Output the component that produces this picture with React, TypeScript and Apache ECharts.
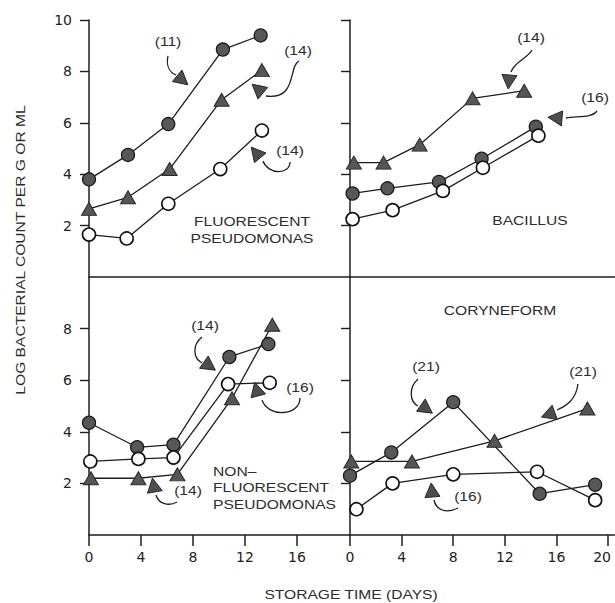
import React, { useEffect, useRef } from "react";
import * as echarts from "echarts";

// ---------- tick values ----------
const xTicksLeft = [0, 4, 8, 12, 16];
const xTicksRight = [0, 4, 8, 12, 16, 20];
const yTicksTop = [2, 4, 6, 8, 10];
const yTicksBottom = [2, 4, 6, 8];

// ---------- data: [storage day, log count] ----------
// Fluorescent Pseudomonas (top-left)
const fluoFilledCircle = [[0, 3.8], [3, 4.75], [6.1, 5.95], [10.3, 8.85], [13.2, 9.4]];
const fluoTriangle = [[0, 2.65], [3, 3.1], [6.2, 4.2], [10.2, 6.9], [13.3, 8.05]];
const fluoOpenCircle = [[0, 1.65], [2.9, 1.5], [6.1, 2.85], [10.1, 4.2], [13.3, 5.7]];

// Bacillus (top-right)
const bacTriangle = [[0.3, 4.45], [2.6, 4.45], [5.4, 5.15], [9.5, 6.95], [13.5, 7.25]];
const bacFilledCircle = [[0.2, 3.25], [2.9, 3.45], [6.9, 3.7], [10.2, 4.6], [14.4, 5.85]];
const bacOpenCircle = [[0.2, 2.25], [3.3, 2.6], [7.2, 3.35], [10.3, 4.25], [14.6, 5.5]];

// Non-fluorescent Pseudomonas (bottom-left)
const nonFilledCircle = [[0, 4.35], [3.7, 3.4], [6.5, 3.5], [10.8, 6.9], [13.8, 7.4]];
const nonOpenCircle = [[0.1, 2.85], [3.8, 2.95], [6.5, 3.0], [10.7, 5.85], [13.9, 5.9]];
const nonTriangle = [[0.15, 2.2], [3.8, 2.2], [6.8, 2.35], [11, 5.3], [14.1, 8.15]];

// Coryneform (bottom-right)
const coryFilledCircle = [[0, 2.3], [3.2, 3.2], [8, 5.15], [14.7, 1.6], [19, 1.95]];
const coryTriangle = [[0.1, 2.85], [4.8, 2.85], [11.2, 3.65], [18.4, 4.9]];
const coryOpenCircle = [[0.5, 1.0], [3.3, 2.0], [8, 2.35], [14.5, 2.45], [19, 1.35]];

// ---------- annotation layout (positions in px) ----------
const arrows = [
  { label: "(11)", t: [168, 42], c: [168, 56, 166, 65, 169, 72, 176, 75], h: [181, 79, 40] },
  { label: "(14)", t: [298, 51], c: [299, 61, 288, 66, 298, 100, 266, 96], h: [259, 90, -140] },
  { label: "(14)", t: [290, 151], c: [290, 162, 290, 175, 268, 175, 263, 161], h: [257, 154, -130] },
  { label: "(14)", t: [531, 38], c: [532, 50, 528, 58, 514, 62, 511, 72], h: [509, 80, 95] },
  { label: "(16)", t: [595, 98], c: [597, 111, 592, 118, 578, 116, 566, 118], h: [557, 118, 185] },
  { label: "(14)", t: [205, 326], c: [202, 337, 192, 345, 193, 358, 202, 363], h: [208, 365, 35] },
  { label: "(16)", t: [300, 388], c: [300, 398, 300, 416, 268, 418, 262, 400], h: [257, 391, -105] },
  { label: "(14)", t: [188, 491], c: [177, 502, 168, 507, 158, 503, 156, 495], h: [154, 487, -100] },
  { label: "(21)", t: [426, 367], c: [418, 379, 408, 388, 410, 402, 418, 406], h: [425, 408, 35] },
  { label: "(21)", t: [583, 372], c: [578, 384, 576, 400, 566, 406, 557, 410], h: [550, 414, 160] },
  { label: "(16)", t: [468, 497], c: [458, 508, 446, 514, 436, 510, 434, 500], h: [432, 492, -95] },
];

const panelLabels = [
  { text: "FLUORESCENT\nPSEUDOMONAS", x: 252, y: 230, align: "center" },
  { text: "BACILLUS", x: 530, y: 221, align: "center" },
  { text: "NON–\nFLUORESCENT\nPSEUDOMONAS", x: 213, y: 488, align: "left" },
  { text: "CORYNEFORM", x: 500, y: 311, align: "center" },
];

const TEXT_FONT = '"Liberation Sans", Arial, Helvetica, sans-serif';
const TEXT_COLOR = "#2c2c2c";
const STRETCH = 1.3;

function textEl(text: string, x: number, y: number, align = "center", rotation = 0) {
  return {
    type: "text",
    x,
    y,
    rotation,
    scaleX: STRETCH,
    silent: true,
    z: 10,
    style: {
      text,
      fill: TEXT_COLOR,
      fontSize: 12,
      fontFamily: TEXT_FONT,
      lineHeight: 16.5,
      align,
      verticalAlign: "middle",
      textAlign: align,
      textVerticalAlign: "middle",
    },
  };
}

function arrowEls(a: any) {
  const [x1, y1, cx1, cy1, cx2, cy2, x2, y2] = a.c;
  const [hx, hy, deg] = a.h;
  const r = (deg * Math.PI) / 180;
  const dx = Math.cos(r), dy = Math.sin(r);
  const nx = -dy, ny = dx;
  const tip = [hx + dx * 9, hy + dy * 9];
  const b1 = [hx - dx * 5 + nx * 7.5, hy - dy * 5 + ny * 7.5];
  const b2 = [hx - dx * 5 - nx * 7.5, hy - dy * 5 - ny * 7.5];
  return [
    textEl(a.label, a.t[0], a.t[1]),
    {
      type: "bezierCurve",
      silent: true,
      z: 10,
      shape: { x1, y1, cpx1: cx1, cpy1: cy1, cpx2: cx2, cpy2: cy2, x2, y2 },
      style: { stroke: "#1f1f1f", lineWidth: 1.3, fill: null },
    },
    {
      type: "polygon",
      silent: true,
      z: 10,
      shape: { points: [tip, b1, b2] },
      style: { fill: "#4d4d4d", stroke: "#262626", lineWidth: 1 },
    },
  ];
}

type Kind = "filled" | "open" | "tri";

function series(data: number[][], idx: number, kind: Kind) {
  const itemStyle =
    kind === "open"
      ? { color: "#ffffff", borderColor: "#111", borderWidth: 1.6 }
      : kind === "tri"
      ? { color: "#555555", borderColor: "#2a2a2a", borderWidth: 1 }
      : { color: "#575757", borderColor: "#1a1a1a", borderWidth: 1.3 };
  return {
    type: "line",
    xAxisIndex: idx,
    yAxisIndex: idx,
    data,
    symbol: kind === "tri" ? "triangle" : "circle",
    symbolSize: kind === "tri" ? [15, 13] : 13,
    showSymbol: true,
    clip: false,
    silent: true,
    lineStyle: { color: "#1c1c1c", width: 1.3 },
    itemStyle,
    emphasis: { disabled: true },
    z: kind === "open" ? 3 : 2,
  };
}

const axisLineStyle = { color: "#1e1e1e", width: 1.5 };
const tickLabel = { fontSize: 14, fontFamily: '"DejaVu Sans", sans-serif', color: "#222" };

function xAxisCfg(idx: number, right: boolean, bottom: boolean) {
  return {
    gridIndex: idx,
    type: "value",
    min: 0,
    max: right ? 20.5 : 20,
    interval: 4,
    axisLine: { show: true, onZero: false, lineStyle: axisLineStyle },
    axisTick: {
      show: bottom,
      length: 11,
      lineStyle: { color: "#1e1e1e", width: 1.5 },
      customValues: right ? xTicksRight : xTicksLeft,
    },
    axisLabel: {
      show: bottom,
      margin: 15,
      customValues: right ? xTicksRight : xTicksLeft,
      ...tickLabel,
      formatter: (v: number) => (right && v === 20 ? "{edge|20}" : String(v)),
      rich: { edge: { ...tickLabel, padding: [0, 12, 0, 0] } },
    },
    splitLine: { show: false },
  };
}

function yAxisCfg(idx: number, right: boolean, top: boolean) {
  const ticks = top ? yTicksTop : yTicksBottom;
  return {
    gridIndex: idx,
    type: "value",
    min: 0,
    max: 10,
    interval: 2,
    axisLine: { show: true, onZero: false, lineStyle: axisLineStyle },
    axisTick: {
      show: true,
      length: 9,
      lineStyle: { color: "#1e1e1e", width: 1.4 },
      customValues: ticks,
    },
    axisLabel: {
      show: !right,
      margin: 17,
      customValues: ticks,
      ...tickLabel,
    },
    splitLine: { show: false },
  };
}

export default function App() {
  const ref = useRef<HTMLDivElement>(null);
  useEffect(() => {
    if (!ref.current) return;
    const chart = echarts.init(ref.current, null, { renderer: "svg" });
    const gridBase = { outerBoundsMode: "none", containLabel: false, show: false };
    const graphics: any[] = [];
    arrows.forEach((a) => graphics.push(...arrowEls(a)));
    panelLabels.forEach((p) => graphics.push(textEl(p.text, p.x, p.y, p.align)));
    graphics.push(textEl("STORAGE TIME (DAYS)", 351, 595));
    graphics.push(textEl("LOG BACTERIAL COUNT PER G OR ML", 21, 250, "center", Math.PI / 2));

    chart.setOption({
      animation: false,
      backgroundColor: "#ffffff",
      grid: [
        { ...gridBase, left: 89, top: 20, width: 260, height: 257 },
        { ...gridBase, left: 350, top: 20, width: 264.5, height: 257 },
        { ...gridBase, left: 89, top: 277, width: 260, height: 258 },
        { ...gridBase, left: 350, top: 277, width: 264.5, height: 258 },
      ],
      xAxis: [
        xAxisCfg(0, false, false),
        xAxisCfg(1, true, false),
        xAxisCfg(2, false, true),
        xAxisCfg(3, true, true),
      ],
      yAxis: [
        yAxisCfg(0, false, true),
        yAxisCfg(1, true, true),
        yAxisCfg(2, false, false),
        yAxisCfg(3, true, false),
      ],
      series: [
        series(fluoFilledCircle, 0, "filled"),
        series(fluoTriangle, 0, "tri"),
        series(fluoOpenCircle, 0, "open"),
        series(bacTriangle, 1, "tri"),
        series(bacFilledCircle, 1, "filled"),
        series(bacOpenCircle, 1, "open"),
        series(nonFilledCircle, 2, "filled"),
        series(nonOpenCircle, 2, "open"),
        series(nonTriangle, 2, "tri"),
        series(coryFilledCircle, 3, "filled"),
        series(coryTriangle, 3, "tri"),
        series(coryOpenCircle, 3, "open"),
      ],
      graphic: { elements: graphics },
    });
    return () => chart.dispose();
  }, []);
  return (
    <div
      ref={ref}
      style={{ position: "fixed", left: 0, top: 0, width: 615, height: 603, background: "#fff" }}
    />
  );
}
